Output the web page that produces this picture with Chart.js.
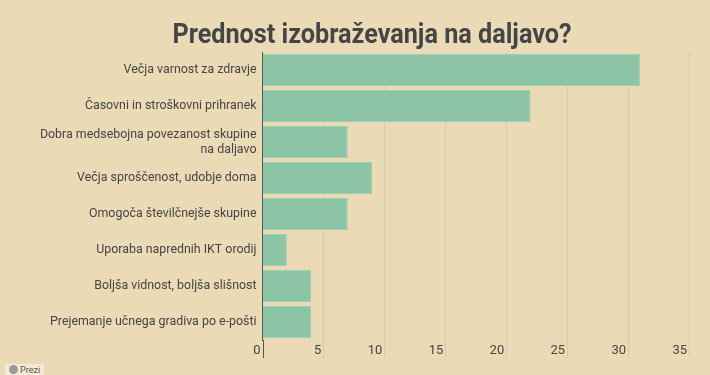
<!DOCTYPE html>
<html>
<head>
<meta charset="utf-8">
<script src="https://cdn.jsdelivr.net/npm/chart.js@4"></script>
<style>
  html, body { margin: 0; padding: 0; background: #ebdab6; }
  #wrap { position: relative; width: 710px; height: 375px; }
  #prezi { position: absolute; left: 5px; top: 364px; height: 14px; padding: 0 4px;
    background: #f3ead6; border-radius: 2px; font: 9px Roboto, sans-serif; color: #555; line-height: 13px; }
  #prezi span { display: inline-block; width: 9px; height: 9px; border-radius: 50%; background: #999; vertical-align: -1px; margin-right: 2px; }
</style>
</head>
<body>
<div id="wrap">
  <canvas id="grafico" width="710" height="375"></canvas>
  <div id="prezi"><span></span>Prezi</div>
</div>
<script>
const naslov = 'Prednost izobraževanja na daljavo?';
const kategorije = [
  'Večja varnost za zdravje',
  'Časovni in stroškovni prihranek',
  ['Dobra medsebojna povezanost skupine', 'na daljavo'],
  'Večja sproščenost, udobje doma',
  'Omogoča številčnejše skupine',
  'Uporaba naprednih IKT orodij',
  'Boljša vidnost, boljša slišnost',
  'Prejemanje učnega gradiva po e-pošti'
];
const odgovori = [31, 22, 7, 9, 7, 2, 4, 4];
const oznakeX = [0, 5, 10, 15, 20, 25, 30, 35];

// naslov je nekoliko ožji kot navadni Roboto, zato ga narišemo sami
const naslovPlugin = {
    id: 'naslov',
    afterDraw(chart) {
        const c = chart.ctx;
        c.save();
        c.font = 'bold 28px Roboto';
        c.fillStyle = '#454545';
        c.textAlign = 'center';
        c.textBaseline = 'alphabetic';
        c.translate(372, 43);
        c.scale(0.9, 1);
        c.fillText(naslov, 0, 0);
        c.restore();
    }
};

// mrežne črte se nadaljujejo še pod grafom, mimo oznak
const podaljsekMreze = {
    id: 'podaljsekMreze',
    afterDraw(chart) {
        const c = chart.ctx;
        const x = chart.scales.x;
        const spodaj = chart.chartArea.bottom;
        c.save();
        c.lineWidth = 1;
        oznakeX.forEach(v => {
            const px = Math.round(x.getPixelForValue(v)) + 0.5;
            c.strokeStyle = v === 0 ? '#555555' : '#dccaa5';
            c.beginPath();
            c.moveTo(px, spodaj);
            c.lineTo(px, spodaj + 18);
            c.stroke();
        });
        c.restore();
    }
};

document.addEventListener('DOMContentLoaded', function () {
    const ctx = document.getElementById('grafico').getContext('2d');
    new Chart(ctx, {
        type: 'bar',
        data: {
            labels: kategorije,
            datasets: [{
                label: 'Prednost',
                data: odgovori,
                backgroundColor: '#8dc4a6',
                borderColor: '#9dd0b0',
                borderWidth: 1,
                categoryPercentage: 1.0,
                barPercentage: 0.89
            }]
        },
        options: {
            indexAxis: 'y',
            responsive: false,
            animation: false,
            layout: { padding: { left: 0, right: 21, top: 52, bottom: 13.4 } },
            plugins: {
                legend: { display: false },
                tooltip: { enabled: false },
                title: { display: false }
            },
            scales: {
                x: {
                    min: 0,
                    max: 35,
                    afterBuildTicks: function (scale) {
                        scale.ticks = oznakeX.map(v => ({ value: v }));
                    },
                    grid: { color: '#dccaa5', drawTicks: false, lineWidth: 1 },
                    border: { display: false },
                    ticks: { color: '#454545', align: 'end', padding: 3, labelOffset: -2,
                        font: { family: 'Roboto', size: 13 } }
                },
                y: {
                    afterFit: function (scale) { scale.width = 262.5; },
                    grid: { display: false, drawTicks: false },
                    border: { display: true, color: '#555', width: 1 },
                    ticks: { color: '#454545', padding: 6,
                        font: { family: 'Roboto', size: 12.4 } }
                }
            }
        },
        plugins: [naslovPlugin, podaljsekMreze]
    });
});
</script>
</body>
</html>
